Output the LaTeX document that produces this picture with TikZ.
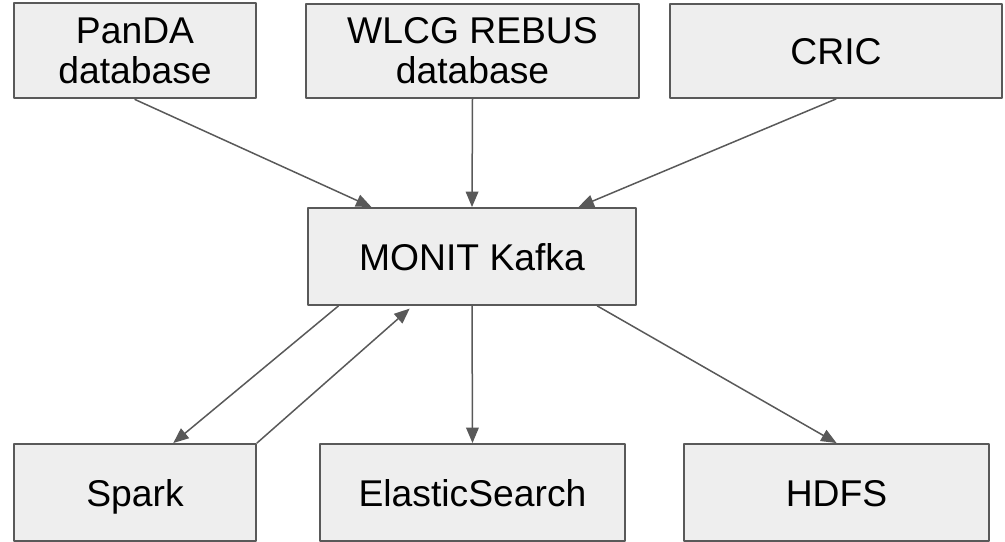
\documentclass[tikz,border=0pt]{standalone}
\usepackage{fontspec}
\setmainfont{Liberation Sans}
\usetikzlibrary{arrows,calc}
\definecolor{boxgray}{HTML}{EEEEEE}
\definecolor{linegray}{HTML}{595959}

\begin{document}
\begin{tikzpicture}[line cap=round,line join=round,>=triangle 45,x=0.5bp,y=-0.5bp,
		box/.style={draw=linegray,fill=boxgray,line width=1bp,inner sep=0pt,align=center,
			font=\fontsize{18.7}{20}\selectfont},
		oneline/.style={box,text height=14bp,text depth=0pt},
		flow/.style={->,draw=linegray,line width=0.75bp}]
		\useasboundingbox (0,0) rectangle (1005,542);
		% sources
		\node[box,minimum width=121bp,minimum height=47.5bp] (panda) at (135,51) {PanDA\\database};
		\node[box,minimum width=166.5bp,minimum height=47bp] (rebus) at (472.5,51) {WLCG REBUS\\database};
		\node[oneline,minimum width=166bp,minimum height=47bp] (cric) at (836,51) {CRIC};
		% broker
		\node[oneline,minimum width=164bp,minimum height=48.5bp] (kafka) at (472,256.5) {MONIT Kafka};
		% sinks
		\node[oneline,minimum width=121bp,minimum height=48.5bp] (spark) at (135,492.5) {Spark};
		\node[oneline,minimum width=152.5bp,minimum height=48.5bp] (elastic) at (472.5,492.5) {ElasticSearch};
		\node[oneline,minimum width=152.5bp,minimum height=48.5bp] (hdfs) at (836.5,492.5) {HDFS};
		% connectors
		\draw[flow] (panda.south) -- ($(kafka.north west)!.195!(kafka.north east)$);
		\draw[flow] (rebus.south) -- (kafka.north);
		\draw[flow] (cric.south) -- ($(kafka.north west)!.823!(kafka.north east)$);
		\draw[flow] ($(kafka.south west)!.095!(kafka.south east)$) -- ($(spark.north west)!.657!(spark.north east)$);
		\draw[flow,shorten >=2bp] (spark.north east) -- ($(kafka.south west)!.32!(kafka.south east)$);
		\draw[flow] (kafka.south) -- (elastic.north);
		\draw[flow] ($(kafka.south west)!.88!(kafka.south east)$) -- (hdfs.north);
	\end{tikzpicture}
\end{document}
